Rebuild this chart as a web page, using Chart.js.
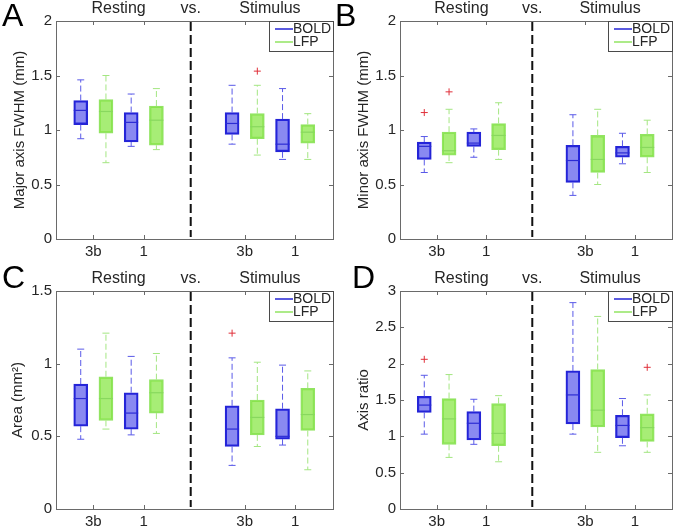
<!DOCTYPE html>
<html>
<head>
<meta charset="utf-8">
<script src="https://cdn.jsdelivr.net/npm/chart.js@4.4.1/dist/chart.umd.min.js"></script>
<style>
  html, body { margin: 0; padding: 0; background: #fff; }
  #wrap { position: relative; width: 677px; height: 529px; overflow: hidden; }
  #wrap canvas { position: absolute; }
</style>
</head>
<body>
<div id="wrap">
  <canvas id="cA" width="338" height="264" style="left:0;top:0"></canvas>
  <canvas id="cB" width="347" height="264" style="left:330px;top:0"></canvas>
  <canvas id="cC" width="338" height="265" style="left:0;top:264px"></canvas>
  <canvas id="cD" width="347" height="265" style="left:330px;top:264px"></canvas>
</div>
<script>
// categories
const groups = ['3b', '1', '3b', '1'];
const conditions = ['Resting', 'Stimulus'];
const seriesNames = ['BOLD', 'LFP'];

// box stats: [lower whisker, q1, median, q3, upper whisker]
// order: Resting 3b, Resting 1, Stimulus 3b, Stimulus 1
const majorBold = [[0.92, 1.05, 1.18, 1.27, 1.46], [0.85, 0.89, 1.07, 1.16, 1.33], [0.87, 0.96, 1.06, 1.16, 1.41], [0.73, 0.80, 0.87, 1.10, 1.38]];
const majorLfp  = [[0.70, 0.97, 1.17, 1.28, 1.50], [0.82, 0.86, 1.09, 1.22, 1.38], [0.77, 0.92, 1.03, 1.15, 1.41], [0.73, 0.88, 0.98, 1.05, 1.15]];
const majorBoldOut = [[], [], [], []];
const majorLfpOut  = [[], [], [1.54], []];

const minorBold = [[0.61, 0.73, 0.85, 0.89, 0.94], [0.75, 0.85, 0.88, 0.98, 1.01], [0.40, 0.52, 0.72, 0.86, 1.14], [0.69, 0.75, 0.79, 0.85, 0.97]];
const minorLfp  = [[0.70, 0.77, 0.81, 0.98, 1.19], [0.73, 0.82, 0.95, 1.06, 1.25], [0.50, 0.61, 0.73, 0.95, 1.19], [0.61, 0.75, 0.84, 0.96, 1.09]];
const minorBoldOut = [[1.16], [], [], []];
const minorLfpOut  = [[1.35], [], [], []];

const areaBold = [[0.48, 0.57, 0.76, 0.86, 1.10], [0.51, 0.55, 0.66, 0.80, 1.05], [0.30, 0.43, 0.55, 0.71, 1.04], [0.44, 0.48, 0.50, 0.69, 0.99]];
const areaLfp  = [[0.55, 0.61, 0.76, 0.91, 1.21], [0.52, 0.66, 0.80, 0.89, 1.07], [0.43, 0.51, 0.63, 0.75, 1.01], [0.27, 0.54, 0.65, 0.83, 0.95]];
const areaBoldOut = [[], [], [1.21], []];
const areaLfpOut  = [[], [], [], []];

const ratioBold = [[1.03, 1.33, 1.43, 1.55, 1.84], [0.89, 0.95, 1.18, 1.34, 1.51], [1.03, 1.17, 1.57, 1.90, 2.84], [0.87, 0.98, 1.15, 1.29, 1.52]];
const ratioLfp  = [[0.71, 0.89, 1.24, 1.52, 1.85], [0.65, 0.87, 1.04, 1.45, 1.56], [0.78, 1.13, 1.36, 1.92, 2.65], [0.78, 0.93, 1.12, 1.31, 1.57]];
const ratioBoldOut = [[2.06], [], [], []];
const ratioLfpOut  = [[], [], [], [1.95]];

const FONT = "'Liberation Sans', Arial, Helvetica, sans-serif";
const TXT = '#262626';
Chart.defaults.font.family = FONT;

const STYLE = {
  BOLD: { fill: 'rgba(40,40,230,0.55)', edge: '#2424d6', whisker: '#5a5ae8', median: '#2c2cd4', off: -0.25 },
  LFP:  { fill: 'rgba(130,230,60,0.7)', edge: '#92e462', whisker: '#a4e682', median: '#88d85e', off: 0.25 }
};

const panels = [
  { id: 'cA', letter: 'A', letterX: 2, letterY: 26, ylabel: 'Major axis FWHM (mm)', ymax: 2,
    stats: [majorBold, majorLfp], outs: [majorBoldOut, majorLfpOut], axisW: 56, padTop: 21, padRight: 5, xH: 25, labelX: 20 },
  { id: 'cB', letter: 'B', letterX: 5, letterY: 26, ylabel: 'Minor axis FWHM (mm)', ymax: 2,
    stats: [minorBold, minorLfp], outs: [minorBoldOut, minorLfpOut], axisW: 70, padTop: 21, padRight: 3, xH: 25, labelX: 34 },
  { id: 'cC', letter: 'C', letterX: 2, letterY: 24, ylabel: 'Area (mm\u00B2)', ymax: 1.5,
    stats: [areaBold, areaLfp], outs: [areaBoldOut, areaLfpOut], axisW: 56, padTop: 27, padRight: 5, xH: 20, labelX: 18 },
  { id: 'cD', letter: 'D', letterX: 22, letterY: 24, ylabel: 'Axis ratio', ymax: 3,
    stats: [ratioBold, ratioLfp], outs: [ratioBoldOut, ratioLfpOut], axisW: 70, padTop: 27, padRight: 3, xH: 20, labelX: 34 }
];

// x positions of the groups: two per condition, gap in between
const pos = groups.map((g, i) => i < 2 ? i + 1 : i + 2);
const dividerAt = 2.93;

const matlabPlugin = {
  id: 'matlab',
  afterDatasetsDraw(chart) {
    const { ctx, scales: { x, y } } = chart;
    chart.data.datasets.forEach(ds => {
      if (!ds.stats) return;
      const st = STYLE[ds.label];
      ds.stats.forEach((b, i) => {
        const px = x.getPixelForValue(pos[i] + st.off);
        const yMin = y.getPixelForValue(b[0]), yQ1 = y.getPixelForValue(b[1]);
        const yMed = y.getPixelForValue(b[2]), yQ3 = y.getPixelForValue(b[3]);
        const yMax = y.getPixelForValue(b[4]);
        ctx.save();
        ctx.strokeStyle = st.whisker;
        ctx.lineWidth = 1;
        ctx.setLineDash([6, 3]);
        ctx.beginPath();
        ctx.moveTo(px, yQ3); ctx.lineTo(px, yMax);
        ctx.moveTo(px, yQ1); ctx.lineTo(px, yMin);
        ctx.stroke();
        ctx.setLineDash([]);
        ctx.beginPath();
        ctx.moveTo(px - 3.5, yMax); ctx.lineTo(px + 3.5, yMax);
        ctx.moveTo(px - 3.5, yMin); ctx.lineTo(px + 3.5, yMin);
        ctx.stroke();
        ctx.strokeStyle = st.median;
        ctx.lineWidth = 1.2;
        ctx.beginPath();
        ctx.moveTo(px - 7, yMed); ctx.lineTo(px + 7, yMed);
        ctx.stroke();
        ctx.restore();
      });
    });
  },
  afterDraw(chart, args, opts) {
    const { ctx, chartArea: a, scales: { x, y } } = chart;
    ctx.save();
    // axes box
    ctx.strokeStyle = '#6a6a6a';
    ctx.lineWidth = 1;
    ctx.strokeRect(Math.round(a.left) + 0.5, Math.round(a.top) + 0.5, Math.round(a.right - a.left), Math.round(a.bottom - a.top));
    // inward tick marks
    ctx.beginPath();
    y.ticks.forEach(t => {
      const py = Math.round(y.getPixelForValue(t.value)) + 0.5;
      ctx.moveTo(a.left, py); ctx.lineTo(a.left + 4, py);
      ctx.moveTo(a.right, py); ctx.lineTo(a.right - 4, py);
    });
    x.ticks.forEach(t => {
      const px = Math.round(x.getPixelForValue(t.value)) + 0.5;
      ctx.moveTo(px, a.bottom); ctx.lineTo(px, a.bottom - 4);
      ctx.moveTo(px, a.top); ctx.lineTo(px, a.top + 4);
    });
    ctx.stroke();
    // divider
    const dx = x.getPixelForValue(dividerAt);
    ctx.strokeStyle = '#111';
    ctx.lineWidth = 2;
    ctx.setLineDash([9, 4]);
    ctx.beginPath();
    ctx.moveTo(dx, a.top + 1); ctx.lineTo(dx, a.bottom - 2);
    ctx.stroke();
    ctx.setLineDash([]);
    // legend
    const lw = 64, lh = 30, lx = a.right - lw, ly = a.top;
    ctx.fillStyle = '#fff';
    ctx.fillRect(lx, ly, lw, lh);
    ctx.strokeStyle = '#4a4a4a';
    ctx.lineWidth = 1;
    ctx.strokeRect(Math.round(lx) + 0.5, Math.round(ly) + 0.5, lw, lh);
    ctx.font = '14px ' + FONT;
    ctx.textAlign = 'left';
    ctx.textBaseline = 'middle';
    seriesNames.forEach((n, i) => {
      const yy = ly + 8 + i * 13;
      ctx.strokeStyle = STYLE[n].edge;
      ctx.lineWidth = 1.5;
      ctx.beginPath();
      ctx.moveTo(lx + 6, yy); ctx.lineTo(lx + 24, yy);
      ctx.stroke();
      ctx.fillStyle = TXT;
      ctx.fillText(n, lx + 24, yy + 0.5);
    });
    // condition titles
    ctx.font = '16px ' + FONT;
    ctx.fillStyle = TXT;
    ctx.textAlign = 'center';
    ctx.textBaseline = 'alphabetic';
    const ty = a.top - 8;
    ctx.fillText(conditions[0], x.getPixelForValue((pos[0] + pos[1]) / 2), ty);
    ctx.fillText('vs.', dx, ty);
    ctx.fillText(conditions[1], x.getPixelForValue((pos[2] + pos[3]) / 2), ty);
    // panel letter
    ctx.font = '32px ' + FONT;
    ctx.fillStyle = '#000';
    ctx.textAlign = 'left';
    ctx.fillText(opts.letter, opts.letterX, opts.letterY);
    // y label
    ctx.font = '15px ' + FONT;
    ctx.fillStyle = TXT;
    ctx.translate(opts.labelX, (a.top + a.bottom) / 2);
    ctx.rotate(-Math.PI / 2);
    ctx.textAlign = 'center';
    ctx.textBaseline = 'middle';
    ctx.fillText(opts.ylabel, 0, 0);
    ctx.restore();
  }
};

function makeChart(p) {
  const datasets = [];
  seriesNames.forEach((n, k) => {
    const st = STYLE[n];
    datasets.push({
      type: 'bar',
      label: n,
      stats: p.stats[k],
      data: p.stats[k].map((b, i) => ({ x: pos[i] + st.off, y: [b[1], b[3]] })),
      backgroundColor: st.fill,
      borderColor: st.edge,
      borderWidth: 1.6,
      borderSkipped: false,
      barThickness: 14,
      grouped: false
    });
  });
  seriesNames.forEach((n, k) => {
    const pts = [];
    p.outs[k].forEach((list, i) => list.forEach(v => pts.push({ x: pos[i] + STYLE[n].off, y: v })));
    datasets.push({
      type: 'scatter',
      label: n + ' outliers',
      data: pts,
      pointStyle: 'cross',
      pointRadius: 3.5,
      borderColor: '#e0303a',
      backgroundColor: '#e0303a',
      borderWidth: 1
    });
  });

  return new Chart(document.getElementById(p.id), {
    type: 'bar',
    data: { datasets },
    options: {
      responsive: false,
      animation: false,
      layout: { padding: { top: p.padTop, right: p.padRight, left: 0, bottom: 0 } },
      plugins: {
        legend: { display: false },
        tooltip: { enabled: false },
        matlab: { letter: p.letter, letterX: p.letterX, letterY: p.letterY, ylabel: p.ylabel, labelX: p.labelX }
      },
      scales: {
        x: {
          type: 'linear', min: 0.26, max: 5.75, offset: false,
          grid: { display: false, drawTicks: false },
          border: { display: false },
          afterBuildTicks: s => { s.ticks = pos.map(v => ({ value: v })); },
          afterFit: s => { s.height = p.xH; },
          ticks: {
            autoSkip: false, maxRotation: 0, padding: 4,
            color: TXT, font: { size: 15 },
            callback: (v, i) => groups[i]
          }
        },
        y: {
          min: 0, max: p.ymax,
          grid: { display: false, drawTicks: false },
          border: { display: false },
          afterFit: s => { s.width = p.axisW; },
          ticks: {
            stepSize: 0.5, padding: 4, color: TXT, font: { size: 15 },
            callback: v => String(Number(v.toFixed(2)))
          }
        }
      }
    },
    plugins: [matlabPlugin]
  });
}

panels.forEach(makeChart);
</script>
</body>
</html>
